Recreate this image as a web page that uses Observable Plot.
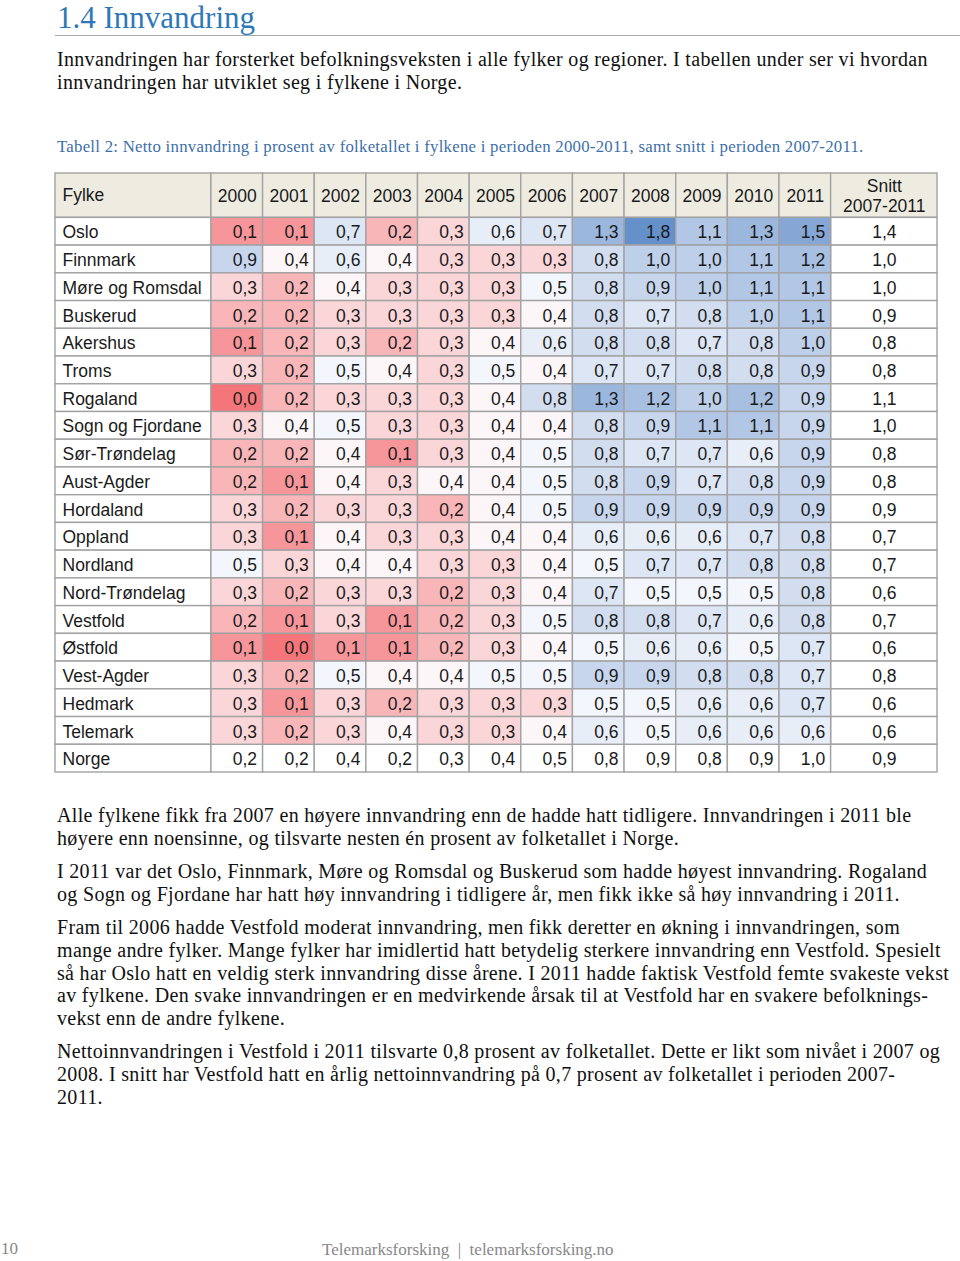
<!DOCTYPE html>
<html>
<head>
<meta charset="utf-8">
<script src="https://cdn.jsdelivr.net/npm/d3@7"></script>
<script src="https://cdn.jsdelivr.net/npm/@observablehq/plot@0.6"></script>
<style>
  html, body { margin: 0; padding: 0; background: #fff; }
  #page { position: relative; width: 960px; height: 1261px; overflow: hidden; background: #fff; }
  .serif { font-family: "Liberation Serif", "Times New Roman", serif; }
  .abs { position: absolute; white-space: nowrap; }
  #title { left: 57px; top: 2px; font-size: 31px; line-height: 32px; color: #2f78b7; }
  #rule { left: 55px; top: 35px; width: 905px; height: 0; border-top: 1.5px solid #a8a8a8; }
  .para { left: 57px; font-size: 20px; letter-spacing: 0.32px; line-height: 22.8px; color: #111; }
  #caption { left: 57px; top: 137px; font-size: 16.8px; letter-spacing: 0.25px; line-height: 20px; color: #3d6fa9; }
  #chart { position: absolute; left: 0; top: 170px; }
  #pagenum { left: 1px; top: 1238px; font-size: 17px; line-height: 22px; color: #888; }
  #footer { left: 322px; top: 1239px; font-size: 17px; line-height: 22px; color: #888; }
</style>
</head>
<body>
<div id="page">
  <div id="title" class="abs serif">1.4 Innvandring</div>
  <div id="rule" class="abs"></div>
  <div class="abs serif para" style="top:48px">Innvandringen har forsterket befolkningsveksten i alle fylker og regioner. I tabellen under ser vi hvordan<br>innvandringen har utviklet seg i fylkene i Norge.</div>
  <div id="caption" class="abs serif">Tabell 2: Netto innvandring i prosent av folketallet i fylkene i perioden 2000-2011, samt snitt i perioden 2007-2011.</div>
  <div id="chart"></div>
  <div class="abs serif para" style="top:804px">Alle fylkene fikk fra 2007 en høyere innvandring enn de hadde hatt tidligere. Innvandringen i 2011 ble<br>høyere enn noensinne, og tilsvarte nesten én prosent av folketallet i Norge.</div>
  <div class="abs serif para" style="top:860px">I 2011 var det Oslo, Finnmark, Møre og Romsdal og Buskerud som hadde høyest innvandring. Rogaland<br>og Sogn og Fjordane har hatt høy innvandring i tidligere år, men fikk ikke så høy innvandring i 2011.</div>
  <div class="abs serif para" style="top:916px">Fram til 2006 hadde Vestfold moderat innvandring, men fikk deretter en økning i innvandringen, som<br>mange andre fylker. Mange fylker har imidlertid hatt betydelig sterkere innvandring enn Vestfold. Spesielt<br>så har Oslo hatt en veldig sterk innvandring disse årene. I 2011 hadde faktisk Vestfold femte svakeste vekst<br>av fylkene. Den svake innvandringen er en medvirkende årsak til at Vestfold har en svakere befolknings-<br>vekst enn de andre fylkene.</div>
  <div class="abs serif para" style="top:1040px">Nettoinnvandringen i Vestfold i 2011 tilsvarte 0,8 prosent av folketallet. Dette er likt som nivået i 2007 og<br>2008. I snitt har Vestfold hatt en årlig nettoinnvandring på 0,7 prosent av folketallet i perioden 2007-<br>2011.</div>
  <div id="pagenum" class="abs serif">10</div>
  <div id="footer" class="abs serif">Telemarksforsking &nbsp;|&nbsp; telemarksforsking.no</div>
</div>
<script>
// ---------- DATA ----------
const fylker = ["Oslo","Finnmark","Møre og Romsdal","Buskerud","Akershus","Troms","Rogaland","Sogn og Fjordane","Sør-Trøndelag","Aust-Agder","Hordaland","Oppland","Nordland","Nord-Trøndelag","Vestfold","Østfold","Vest-Agder","Hedmark","Telemark","Norge"];
const years = ["2000","2001","2002","2003","2004","2005","2006","2007","2008","2009","2010","2011"];
const values = [
  [0.1,0.1,0.7,0.2,0.3,0.6,0.7,1.3,1.8,1.1,1.3,1.5],
  [0.9,0.4,0.6,0.4,0.3,0.3,0.3,0.8,1.0,1.0,1.1,1.2],
  [0.3,0.2,0.4,0.3,0.3,0.3,0.5,0.8,0.9,1.0,1.1,1.1],
  [0.2,0.2,0.3,0.3,0.3,0.3,0.4,0.8,0.7,0.8,1.0,1.1],
  [0.1,0.2,0.3,0.2,0.3,0.4,0.6,0.8,0.8,0.7,0.8,1.0],
  [0.3,0.2,0.5,0.4,0.3,0.5,0.4,0.7,0.7,0.8,0.8,0.9],
  [0.0,0.2,0.3,0.3,0.3,0.4,0.8,1.3,1.2,1.0,1.2,0.9],
  [0.3,0.4,0.5,0.3,0.3,0.4,0.4,0.8,0.9,1.1,1.1,0.9],
  [0.2,0.2,0.4,0.1,0.3,0.4,0.5,0.8,0.7,0.7,0.6,0.9],
  [0.2,0.1,0.4,0.3,0.4,0.4,0.5,0.8,0.9,0.7,0.8,0.9],
  [0.3,0.2,0.3,0.3,0.2,0.4,0.5,0.9,0.9,0.9,0.9,0.9],
  [0.3,0.1,0.4,0.3,0.3,0.4,0.4,0.6,0.6,0.6,0.7,0.8],
  [0.5,0.3,0.4,0.4,0.3,0.3,0.4,0.5,0.7,0.7,0.8,0.8],
  [0.3,0.2,0.3,0.3,0.2,0.3,0.4,0.7,0.5,0.5,0.5,0.8],
  [0.2,0.1,0.3,0.1,0.2,0.3,0.5,0.8,0.8,0.7,0.6,0.8],
  [0.1,0.0,0.1,0.1,0.2,0.3,0.4,0.5,0.6,0.6,0.5,0.7],
  [0.3,0.2,0.5,0.4,0.4,0.5,0.5,0.9,0.9,0.8,0.8,0.7],
  [0.3,0.1,0.3,0.2,0.3,0.3,0.3,0.5,0.5,0.6,0.6,0.7],
  [0.3,0.2,0.3,0.4,0.3,0.3,0.4,0.6,0.5,0.6,0.6,0.6],
  [0.2,0.2,0.4,0.2,0.3,0.4,0.5,0.8,0.9,0.8,0.9,1.0]
];
const snitt = [1.4,1.0,1.0,0.9,0.8,0.8,1.1,1.0,0.8,0.8,0.9,0.7,0.7,0.6,0.7,0.6,0.8,0.6,0.6,0.9];
const headFylke = "Fylke";
const headSnitt = "Snitt\n2007-2011";

// ---------- LAYOUT (units) ----------
const fylkeUnits = 3.02, yearUnits = 1, snittUnits = 2.06;
const headerUnits = 1.6;
const totalX = fylkeUnits + years.length * yearUnits + snittUnits;
const totalY = headerUnits + fylker.length;
const fmt = v => d3.format(".1f")(v).replace(".", ",");

const colX1 = j => fylkeUnits + j * yearUnits;
const snittX1 = fylkeUnits + years.length * yearUnits;
const rowY1 = i => headerUnits + i;

const header = [
  {x1: 0, x2: fylkeUnits, label: headFylke, anchor: "start"},
  ...years.map((y, j) => ({x1: colX1(j), x2: colX1(j) + yearUnits, label: y, anchor: "middle"})),
  {x1: snittX1, x2: totalX, label: headSnitt, anchor: "middle"}
];
const colored = [], plain = [];
fylker.forEach((f, i) => {
  plain.push({x1: 0, x2: fylkeUnits, y1: rowY1(i), y2: rowY1(i) + 1, label: f, kind: "name"});
  values[i].forEach((v, j) => {
    const c = {x1: colX1(j), x2: colX1(j) + yearUnits, y1: rowY1(i), y2: rowY1(i) + 1, value: v, label: fmt(v), kind: "val"};
    (f === "Norge" ? plain : colored).push(c);
  });
  plain.push({x1: snittX1, x2: totalX, y1: rowY1(i), y2: rowY1(i) + 1, value: snitt[i], label: fmt(snitt[i]), kind: "snitt"});
});
const allCells = [...colored, ...plain];

const font = "Liberation Sans, Arial, Helvetica, sans-serif";
const stroke = "#a2a2a2";
const chart = Plot.plot({
  width: 960,
  height: 610,
  marginLeft: 55,
  marginRight: 23,
  marginTop: 3,
  marginBottom: 8,
  x: {domain: [0, totalX], axis: null},
  y: {domain: [0, totalY], reverse: true, axis: null},
  color: {type: "linear", domain: [0, 0.42, 1.8], range: ["#F4767A", "#FCFCFF", "#6590CA"], interpolate: "rgb"},
  style: {fontFamily: font, background: "transparent"},
  marks: [
    Plot.rect(header, {x1: "x1", x2: "x2", y1: 0, y2: headerUnits, fill: "#EEECE1", stroke, strokeWidth: 1.4}),
    Plot.rect(plain, {x1: "x1", x2: "x2", y1: "y1", y2: "y2", fill: "white", stroke, strokeWidth: 1.4}),
    Plot.rect(colored, {x1: "x1", x2: "x2", y1: "y1", y2: "y2", fill: "value", stroke, strokeWidth: 1.4}),
    Plot.text(header.filter(d => d.anchor === "start"), {x: "x1", y: headerUnits / 2, text: "label", textAnchor: "start", dx: 7, fontSize: 17.5, fill: "#1a1a1a"}),
    Plot.text(header.filter(d => d.anchor === "middle"), {x: d => (d.x1 + d.x2) / 2, y: headerUnits / 2, text: "label", textAnchor: "middle", fontSize: 17.5, lineHeight: 1.15, fill: "#1a1a1a"}),
    Plot.text(allCells.filter(d => d.kind === "name"), {x: "x1", y: d => d.y1 + 0.5, text: "label", textAnchor: "start", dx: 7, dy: 1, fontSize: 17.5, fill: "#1a1a1a"}),
    Plot.text(allCells.filter(d => d.kind === "val"), {x: "x2", y: d => d.y1 + 0.5, text: "label", textAnchor: "end", dx: -6, dy: 1, fontSize: 17.5, fill: "#1a1a1a"}),
    Plot.text(allCells.filter(d => d.kind === "snitt"), {x: d => (d.x1 + d.x2) / 2, y: d => d.y1 + 0.5, text: "label", textAnchor: "middle", dy: 1, fontSize: 17.5, fill: "#1a1a1a"})
  ]
});
document.getElementById("chart").appendChild(chart);
</script>
</body>
</html>
